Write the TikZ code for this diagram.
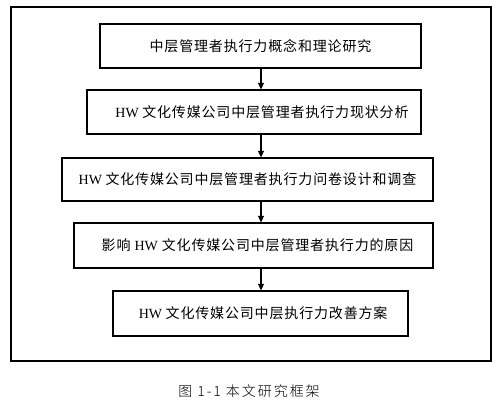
\documentclass[tikz,border=0pt]{standalone}
\usepackage{fontspec}
\setmainfont{Liberation Serif}
\newfontfamily\cjk[LetterSpace=6]{Noto Sans CJK SC}
\newfontfamily\capcjk[LetterSpace=14]{Noto Sans CJK SC Light}
\usepackage{tikz}
\usetikzlibrary{arrows.meta}

\tikzset{
  stepbox/.style={draw, line width=0.8pt, inner sep=0pt, font=\fontsize{10.5pt}{12pt}\selectfont},
  flow/.style={line width=0.8pt, -{Triangle[length=5pt,width=4.5pt]}}
}

\begin{document}
\begin{tikzpicture}[x=0.75pt, y=-0.75pt]
                    \useasboundingbox (0,0) rectangle (501,410);
                    \draw[line width=0.8pt] (11,7) rectangle (491,361);
                    \coordinate (axis) at (261,0);
                    \node[stepbox, minimum width=240.75pt, minimum height=33pt] (b1) at (260.5,46)
                        {\cjk 中层管理者执行力概念和理论研究};
                    \node[stepbox, minimum width=250.5pt, minimum height=33pt] (b2) at (254,112)
                        {\hspace{12pt}HW \cjk 文化传媒公司中层管理者执行力现状分析};
                    \node[stepbox, minimum width=278.25pt, minimum height=32.25pt] (b3) at (247.5,179.5)
                        {HW \cjk 文化传媒公司中层管理者执行力问卷设计和调查\hspace{4pt}};
                    \node[stepbox, minimum width=269.25pt, minimum height=33.75pt] (b4) at (253.5,245.5)
                        {\hspace{6pt}\cjk 影响 {\rmfamily HW} 文化传媒公司中层管理者执行力的原因};
                    \node[stepbox, minimum width=221.25pt, minimum height=33.75pt] (b5) at (260.5,313.5)
                        {\hspace{4pt}HW \cjk 文化传媒公司中层执行力改善方案};
                    \draw[flow] (b1.south -| axis) -- (b2.north -| axis);
                    \draw[flow] (b2.south -| axis) -- (b3.north -| axis);
                    \draw[flow] (b3.south -| axis) -- (b4.north -| axis);
                    \draw[flow] (b4.south -| axis) -- (b5.north -| axis);
                    \node[font=\fontsize{10.5pt}{12pt}\selectfont] (cap) at (249,391) {\capcjk 图 1-1 本文研究框架};
                \end{tikzpicture}
\end{document}
